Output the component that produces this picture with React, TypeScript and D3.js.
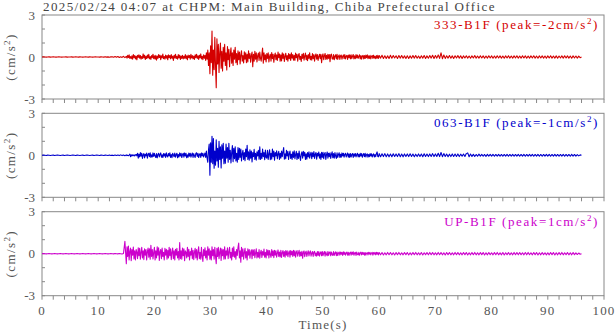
import React from 'react'
import * as d3 from 'd3'

// acceleration records (cm/s^2). Each channel is kept in three pieces:
// quiet part 0-14.75 s (every 0.25 s), strong part 15-59.875 s (every 0.125 s),
// coda 60-96 s (every 0.25 s)
const quietStep = 0.25
const strongStart = 15
const strongStep = 0.125
const codaStart = 60
const codaStep = 0.25

const quiet333 = [
  0, 0.01, 0, -0.01, 0, 0.01, -0.01, 0, 0.01, 0, -0.01, 0, 0.01, 0, -0.01, 0, 0, 0.01, -0.01, 0,
  0, 0.01, -0.01, 0, 0.01, 0, -0.01, 0.01, 0, -0.01, 0, 0.01, 0, -0.01, 0.01, 0, -0.01, 0, 0.01, 0,
  0, -0.01, 0.01, 0, -0.01, 0.02, -0.01, 0.01, -0.02, 0.01, 0.02, -0.02, 0.03, -0.02, 0.03, -0.03, 0.02, -0.03, 0.05, -0.04,
]
const strong333 = [
  0.05, -0.08, 0.12, -0.04, 0.15, -0.1, 0.03, -0.12, 0.08, -0.15, 0.18, -0.05, 0.1, -0.14, 0.06, -0.2, 0.12, -0.03, 0.16, -0.09,
  0.11, -0.16, 0.04, -0.1, 0.22, -0.07, 0.13, -0.18, 0.05, -0.11, 0.14, -0.06, 0.19, -0.13, 0.03, -0.17, 0.1, -0.05, 0.2, -0.12,
  0.08, -0.15, 0.12, -0.22, 0.06, -0.1, 0.17, -0.04, 0.13, -0.19, 0.09, -0.06, 0.21, -0.12, 0.04, -0.16, 0.14, -0.08, 0.1, -0.2,
  0.15, -0.05, 0.11, -0.13, 0.18, -0.09, 0.06, -0.24, 0.12, -0.07, 0.2, -0.11, 0.04, -0.15, 0.17, -0.06, 0.13, -0.18, 0.07, -0.1,
  0.12, -0.14, 0.05, -0.09, 0.18, -0.12, 0.08, -0.2, 0.14, -0.04, 0.11, -0.16, 0.19, -0.07, 0.1, -0.13, 0.06, -0.17, 0.15, -0.05,
  0.2, -0.1, 0.08, -0.18, 0.13, -0.06, 0.22, -0.14, 0.05, -0.19, 0.16, -0.09, 0.12, -0.25, 0.3, -0.15, 0.5, -0.6, 0.3, -1.2,
  0.8, -0.4, 1.86, -1.3, 0.5, -0.9, 1.4, -0.6, -2.19, 1.3, -0.5, 0.9, -1.1, 0.3, 1.0, -0.8, 0.4, -1.0, 0.7, -0.3,
  0.9, -0.6, 0.3, -0.93, 0.74, -0.2, 0.55, -0.69, 0.2, 0.65, -0.45, 0.3, -0.6, 0.5, -0.15, 0.7, -0.4, 0.25, -0.55, 0.45,
  -0.2, 0.35, -0.5, 0.15, 0.45, -0.3, 0.1, -0.42, 0.38, -0.15, 0.3, -0.4, 0.2, -0.35, 0.45, -0.1, 0.25, -0.38, 0.12, 0.35,
  -0.69, 0.2, -0.3, 0.4, -0.15, 0.3, -0.35, 0.1, 0.28, -0.25, 0.35, -0.1, -0.3, 0.2, 0.64, -0.45, 0.3, -0.2, 0.15, -0.35,
  0.25, -0.1, 0.3, -0.35, 0.05, 0.2, -0.3, 0.32, -0.12, 0.2, -0.38, 0.1, 0.28, -0.2, 0.15, -0.25, 0.35, -0.05, 0.22, -0.3,
  0.15, -0.28, 0.3, -0.1, 0.22, -0.32, 0.05, 0.27, -0.2, 0.1, -0.3, 0.24, -0.12, 0.2, -0.25, 0.3, -0.08, 0.18, -0.22, 0.12,
  -0.25, 0.28, -0.05, 0.2, -0.3, 0.12, 0.25, -0.18, 0.05, -0.32, 0.2, -0.1, 0.26, -0.22, 0.08, 0.28, -0.2, 0.12, -0.26, 0.18,
  -0.1, 0.3, -0.2, 0.05, -0.22, 0.25, -0.12, 0.18, -0.3, 0.1, 0.22, -0.15, 0.18, -0.25, 0.05, 0.2, -0.12, 0.2, -0.4, 0.1,
  0.22, -0.2, 0.08, 0.25, -0.18, 0.12, -0.15, 0.2, -0.1, 0.18, -0.33, 0.15, 0.2, -0.12, -0.15, 0.18, -0.2, 0.06, 0.16, -0.14,
  0.2, -0.17, 0.05, 0.15, -0.18, 0.1, 0.14, -0.16, 0.04, 0.15, -0.12, 0.18, -0.14, 0.06, 0.12, -0.17, 0.14, -0.05, 0.16, -0.13,
  0.15, -0.12, 0.05, 0.18, -0.14, 0.08, -0.12, 0.17, -0.06, 0.14, -0.1, 0.04, 0.16, -0.13, 0.1, -0.15, 0.06, 0.12, -0.14, 0.1,
  -0.11, 0.13, -0.05, 0.15, -0.12, 0.08, -0.1, 0.12, -0.13, 0.04, 0.11, -0.1, 0.13, -0.08, 0.05, -0.12, 0.1, -0.09, 0.12, -0.1,
]
const coda333 = [
  0.1, -0.08, 0.12, -0.1, 0.09, -0.11, 0.08, -0.1, 0.12, -0.09, 0.1, -0.07, 0.09, -0.11, 0.1, -0.08, 0.11, -0.09, 0.08, -0.1,
  0.09, -0.1, 0.08, -0.09, 0.11, -0.08, 0.1, -0.09, 0.07, -0.1, 0.09, -0.08, 0.1, -0.11, 0.08, -0.09, 0.1, -0.08, 0.12, -0.1,
  0.1, -0.08, 0.15, -0.1, 0.3, -0.12, 0.14, -0.1, 0.09, -0.08, 0.1, -0.09, 0.08, -0.1, 0.09, -0.07, 0.1, -0.08, 0.09, -0.1,
  0.08, -0.07, 0.09, -0.08, 0.07, -0.09, 0.08, -0.07, 0.1, -0.08, 0.07, -0.08, 0.09, -0.07, 0.08, -0.09, 0.07, -0.08, 0.09, -0.07,
  0.08, -0.09, 0.07, -0.08, 0.09, -0.07, 0.08, -0.08, 0.07, -0.09, 0.08, -0.07, 0.09, -0.08, 0.07, -0.08, 0.08, -0.07, 0.09, -0.08,
  0.07, -0.08, 0.09, -0.07, 0.08, -0.09, 0.07, -0.08, 0.08, -0.07, 0.09, -0.08, 0.07, -0.09, 0.08, -0.07, 0.08, -0.08, 0.07, -0.09,
  0.08, -0.07, 0.09, -0.08, 0.07, -0.08, 0.08, -0.09, 0.07, -0.07, 0.08, -0.08, 0.09, -0.07, 0.08, -0.08, 0.07, -0.09, 0.08, -0.07,
  0.07, -0.08, 0.06, -0.05, 0,
]

const quiet063 = [
  0, 0.01, 0, -0.01, 0.01, 0, -0.01, 0, 0.01, -0.01, 0, 0.01, 0, -0.01, 0, 0.01, -0.01, 0, 0.01, 0,
  -0.01, 0, 0.01, 0, -0.01, 0.01, 0, -0.01, 0, 0.01, -0.01, 0, 0.01, 0, -0.01, 0, 0.01, -0.01, 0, 0.01,
  0, -0.01, 0.01, 0, -0.01, 0.01, 0, -0.01, 0.02, -0.01, 0.01, -0.02, 0.02, -0.01, 0.02, -0.02, 0.03, -0.02, 0.02, -0.03,
]
const strong063 = [
  0.03, -0.02, 0.01, -0.03, 0.02, 0.08, -0.1, 0.04, -0.05, 0.03, -0.02, 0.04, -0.05, 0.02, 0.06, -0.04, 0.15, -0.2, 0.08, -0.12,
  0.2, -0.06, 0.15, -0.22, 0.04, 0.12, -0.18, 0.08, -0.04, 0.16, -0.2, 0.05, 0.14, -0.1, 0.18, -0.15, 0.03, -0.12, 0.17, -0.08,
  0.14, -0.05, -0.16, 0.12, -0.18, 0.04, 0.15, -0.11, 0.06, 0.17, -0.14, 0.03, -0.16, 0.13, -0.05, 0.11, -0.15, 0.18, -0.04, -0.12,
  0.13, -0.04, 0.18, -0.15, 0.05, -0.17, 0.14, 0.03, -0.1, 0.16, -0.13, 0.04, 0.15, -0.18, 0.06, -0.12, 0.17, -0.05, 0.14, -0.16,
  0.04, 0.15, -0.14, 0.17, -0.05, 0.14, -0.18, 0.03, -0.14, 0.16, -0.06, 0.15, -0.13, 0.04, 0.16, -0.15, 0.12, -0.04, -0.15, 0.14,
  0.18, -0.08, 0.14, -0.16, 0.05, 0.12, -0.15, 0.17, -0.04, 0.15, -0.12, 0.03, 0.16, -0.15, 0.3, -0.2, -0.5, 0.4, 0.8, -1.43,
  0.9, -0.5, 1.36, -0.6, 1.2, -0.93, 0.3, -0.7, 1.1, -0.4, 0.5, -0.85, 1.0, -0.3, 0.6, -0.9, 0.75, -0.2, 0.86, -0.6,
  0.3, -0.57, 0.8, -0.2, 0.55, -0.5, 0.86, -0.3, 0.35, -0.55, 0.2, 0.7, -0.45, 0.5, -0.25, 0.6, -0.4, 0.15, -0.5, 0.55,
  -0.3, 0.5, -0.15, 0.45, -0.4, 0.1, 0.35, -0.3, 0.2, -0.38, 0.45, -0.1, 0.71, -0.3, 0.25, -0.35, 0.4, -0.2, 0.3, -0.48,
  0.2, -0.1, 0.42, -0.3, 0.15, -0.35, 0.25, -0.05, 0.35, -0.28, 0.6, -0.3, 0.15, -0.25, 0.45, -0.1, 0.2, -0.32, 0.38, -0.15,
  -0.2, 0.35, -0.3, 0.1, 0.4, -0.32, 0.15, -0.28, 0.45, -0.1, 0.3, -0.35, 0.2, -0.05, 0.32, -0.25, 0.1, 0.28, -0.3, 0.15,
  -0.2, 0.3, -0.1, 0.25, 0.55, -0.28, 0.1, -0.25, 0.35, -0.05, 0.28, -0.3, 0.12, 0.3, -0.22, 0.08, -0.3, 0.25, -0.15, 0.32,
  -0.25, 0.05, 0.28, -0.3, 0.15, -0.22, 0.3, -0.1, -0.36, 0.1, 0.24, -0.2, 0.28, -0.05, 0.22, -0.3, 0.1, -0.28, 0.2, -0.12,
  0.25, -0.2, 0.05, 0.22, -0.25, 0.18, -0.1, 0.26, -0.22, 0.08, 0.2, -0.28, 0.15, -0.05, 0.24, -0.2, 0.1, -0.3, 0.22, -0.15,
  0.22, -0.25, 0.1, 0.2, -0.3, 0.05, 0.24, -0.2, 0.15, -0.1, 0.18, -0.22, 0.06, 0.25, -0.18, 0.12, -0.2, 0.2, -0.05, -0.22,
  0.17, -0.15, 0.05, 0.18, -0.16, 0.08, -0.14, 0.17, -0.05, 0.15, -0.13, 0.06, 0.14, -0.12, 0.04, 0.16, -0.13, 0.1, -0.15, 0.13,
  -0.12, 0.05, 0.13, -0.15, 0.1, -0.06, 0.13, -0.11, 0.04, 0.15, -0.12, 0.07, -0.11, 0.14, -0.05, 0.12, -0.14, 0.03, 0.12, -0.1,
  0.14, -0.12, 0.05, 0.1, -0.13, 0.06, -0.1, 0.12, -0.05, 0.11, -0.12, 0.04, 0.1, -0.12, 0.05, -0.1, 0.12, 0.24, -0.08, -0.11,
]
const coda063 = [
  0.12, -0.1, 0.11, -0.09, 0.12, -0.1, 0.1, -0.11, 0.09, -0.1, 0.11, -0.08, 0.1, -0.09, 0.12, -0.1, 0.09, -0.11, 0.1, -0.08,
  0.1, -0.09, 0.11, -0.08, 0.09, -0.1, 0.08, -0.09, 0.1, -0.08, 0.09, -0.1, 0.11, -0.08, 0.09, -0.09, 0.1, -0.08, 0.12, -0.09,
  0.1, -0.08, 0.14, -0.09, 0.2, -0.1, 0.12, -0.08, 0.09, -0.1, 0.08, -0.09, 0.1, -0.08, 0.09, -0.08, 0.1, -0.09, 0.08, -0.07,
  0.09, -0.08, 0.12, 0.17, -0.1, 0.09, -0.08, 0.07, -0.08, 0.06, -0.07, 0.08, -0.06, 0.07, -0.07, 0.06, -0.08, 0.07, -0.06, 0.07,
  -0.06, 0.07, -0.07, 0.06, -0.06, 0.07, -0.07, 0.06, -0.07, 0.06, -0.06, 0.07, -0.07, 0.06, -0.06, 0.07, -0.07, 0.06, -0.06, 0.07,
  -0.07, 0.06, -0.06, 0.07, -0.07, 0.06, -0.06, 0.07, -0.06, 0.07, -0.07, 0.06, -0.06, 0.07, -0.07, 0.06, -0.07, 0.06, -0.06, 0.07,
  -0.06, 0.07, -0.07, 0.06, -0.06, 0.07, -0.06, 0.06, -0.07, 0.06, -0.06, 0.07, -0.07, 0.06, -0.06, 0.06, -0.07, 0.07, -0.06, 0.06,
  -0.06, 0.05, -0.04, 0.03, 0,
]

const quietUP = [
  0, 0.01, 0, -0.01, 0, 0.01, 0, -0.01, 0, 0.01, 0, -0.01, 0, 0.01, 0, -0.01, 0, 0.01, 0, -0.01,
  0, 0.01, 0, -0.01, 0, 0.01, 0, -0.01, 0, 0.01, 0, -0.01, 0, 0.01, 0, -0.01, 0, 0.01, 0, -0.01,
  0, 0.01, 0, -0.01, 0, 0.01, 0, -0.01, 0, 0.01, 0, -0.01, 0.01, 0, -0.01, 0.01, 0, -0.02, 0.02, 0.88,
]
const strongUP = [
  -0.71, 0.5, -0.2, 0.55, -0.45, 0.15, 0.4, -0.5, 0.3, -0.1, 0.48, -0.38, 0.2, -0.45, 0.3, 0.1, -0.35, 0.42, -0.15, 0.38,
  -0.4, 0.1, 0.45, -0.3, 0.2, -0.42, 0.35, -0.1, 0.3, -0.45, 0.15, 0.4, -0.25, 0.35, -0.4, 0.6, -0.2, 0.3, -0.38, 0.1,
  0.45, -0.45, 0.2, -0.3, 0.5, -0.1, 0.42, -0.48, 0.15, 0.3, -0.35, 0.4, -0.2, 0.1, -0.45, 0.38, -0.1, 0.32, -0.4, 0.25,
  -0.3, 0.45, -0.15, 0.35, -0.42, 0.1, 0.4, -0.35, 0.2, -0.45, 0.32, -0.1, 0.38, -0.3, 0.15, -0.45, 0.79, -0.35, 0.2, -0.4,
  0.4, -0.15, 0.35, -0.5, 0.2, 0.1, -0.3, 0.45, -0.2, 0.32, -0.45, 0.15, -0.1, 0.4, -0.35, 0.25, -0.42, 0.1, 0.38, -0.3,
  0.3, -0.45, 0.15, 0.5, -0.36, 0.1, -0.4, 0.45, -0.2, -0.55, 0.3, -0.15, 0.42, -0.3, 0.2, -0.45, 0.5, -0.1, 0.35, -0.4,
  0.2, -0.45, 0.5, -0.15, 0.3, -0.4, 0.45, -0.2, -0.71, 0.38, -0.2, 0.45, -0.35, 0.1, 0.4, -0.48, 0.35, -0.15, 0.3, -0.4,
  0.5, -0.38, 0.2, -0.1, 0.42, -0.36, 0.15, 0.45, -0.3, 0.1, -0.45, 0.4, -0.2, 0.5, -0.25, 0.15, -0.4, 0.3, -0.12, 0.45,
  0.76, -0.3, 0.2, -0.6, 0.45, -0.2, 0.35, -0.4, 0.1, 0.38, -0.3, 0.15, -0.45, 0.35, -0.1, 0.3, -0.32, 0.1, 0.28, -0.35,
  0.28, -0.12, 0.3, -0.28, 0.05, 0.35, -0.3, 0.1, -0.25, 0.3, -0.32, 0.08, 0.25, -0.27, 0.15, -0.1, 0.34, -0.25, 0.1, -0.3,
  0.3, -0.1, 0.25, -0.3, 0.22, -0.05, -0.26, 0.3, -0.15, 0.2, -0.28, 0.25, -0.1, 0.2, -0.25, 0.05, 0.27, -0.2, 0.12, -0.24,
  0.24, -0.26, 0.08, 0.22, -0.2, 0.15, -0.25, 0.22, -0.1, 0.2, -0.22, 0.05, 0.2, -0.25, 0.22, -0.08, 0.18, -0.2, 0.24, -0.15,
  0.2, -0.25, 0.1, 0.22, -0.18, 0.05, 0.24, -0.2, 0.12, -0.15, 0.18, -0.33, 0.1, 0.2, -0.22, 0.08, 0.18, -0.2, 0.05, 0.21,
  -0.16, 0.1, 0.2, -0.18, 0.05, 0.15, -0.2, 0.12, 0.17, -0.15, 0.05, -0.18, 0.16, -0.12, 0.15, -0.17, 0.04, 0.13, -0.15, 0.16,
  -0.14, 0.05, 0.15, -0.17, 0.13, -0.05, -0.15, 0.16, -0.12, 0.08, 0.14, -0.15, 0.12, -0.05, -0.13, 0.15, -0.12, 0.04, 0.13, -0.14,
  0.11, -0.13, 0.05, 0.12, -0.11, 0.12, -0.04, 0.1, -0.12, 0.13, -0.05, 0.11, -0.1, 0.04, 0.12, -0.11, 0.1, -0.12, 0.05, 0.11,
  -0.1, 0.12, -0.04, 0.13, -0.11, 0.05, 0.1, -0.12, 0.11, -0.04, -0.09, 0.1, -0.11, 0.04, 0.11, -0.09, 0.1, -0.05, 0.08, -0.1,
  0.09, -0.1, 0.04, 0.08, -0.09, 0.1, -0.03, 0.09, -0.08, 0.04, 0.09, -0.1, 0.08, -0.03, 0.09, -0.08, 0.1, -0.04, 0.08, -0.09,
]
const codaUP = [
  0.09, -0.08, 0.08, -0.09, 0.07, -0.08, 0.09, -0.07, 0.08, -0.08, 0.07, -0.09, 0.08, -0.07, 0.09, -0.08, 0.07, -0.08, 0.08, -0.07,
  0.08, -0.09, 0.07, -0.08, 0.08, -0.07, 0.09, -0.08, 0.07, -0.08, 0.08, -0.09, 0.07, -0.07, 0.08, -0.08, 0.09, -0.07, 0.08, -0.08,
  0.07, -0.08, 0.09, -0.07, 0.08, -0.08, 0.07, -0.09, 0.08, -0.07, 0.08, -0.08, 0.07, -0.08, 0.09, -0.07, 0.08, -0.08, 0.07, -0.08,
  0.08, -0.07, 0.08, -0.09, 0.07, -0.08, 0.08, -0.07, 0.09, -0.08, 0.07, -0.08, 0.08, -0.07, 0.08, -0.09, 0.07, -0.08, 0.08, -0.07,
  0.07, -0.08, 0.08, -0.07, 0.09, -0.08, 0.07, -0.08, 0.08, -0.09, 0.07, -0.07, 0.08, -0.08, 0.07, -0.08, 0.09, -0.07, 0.08, -0.08,
  0.08, -0.07, 0.07, -0.08, 0.08, -0.08, 0.09, -0.07, 0.07, -0.08, 0.08, -0.07, 0.08, -0.09, 0.07, -0.08, 0.08, -0.07, 0.07, -0.08,
  0.07, -0.08, 0.08, -0.07, 0.08, -0.09, 0.07, -0.08, 0.08, -0.07, 0.09, -0.08, 0.07, -0.07, 0.08, -0.08, 0.07, -0.08, 0.08, -0.07,
  0.06, -0.06, 0.05, -0.04, 0,
]

const records = [
  [quiet333, strong333, coda333],
  [quiet063, strong063, coda063],
  [quietUP, strongUP, codaUP],
]
const channelNames = ['333-B1F', '063-B1F', 'UP-B1F']
const peakValues = ['-2', '-1', '1']
const title = '2025/02/24 04:07 at CHPM: Main Building, Chiba Prefectural Office'
const xTickValues = [0, 10, 20, 30, 40, 50, 60, 70, 80, 90, 100]
const yTickValues = [3, 0, -3]

const colors = ['#d40000', '#0000cc', '#cc00cc']
const font = '"Liberation Serif", "Times New Roman", serif'
const axisColor = '#888'
const textColor = '#555'

// [time, value] pairs from the three pieces
function toSamples([quiet, strong, coda]: number[][]): [number, number][] {
  return [
    ...quiet.map((v, i): [number, number] => [i * quietStep, v]),
    ...strong.map((v, i): [number, number] => [strongStart + i * strongStep, v]),
    ...coda.map((v, i): [number, number] => [codaStart + i * codaStep, v]),
  ]
}

export default function App() {
  const width = 616
  const height = 334
  const left = 42
  const right = 604
  const panelHeight = 84
  const panelTops = [15, 113.3, 211.7]

  const x = d3.scaleLinear().domain([0, 100]).range([left, right])
  const minorTicks = d3.range(0, 101, 2)

  return (
    <svg
      width={width}
      height={height}
      style={{ position: 'absolute', left: 0, top: 0, background: '#fff' }}
      fontFamily={font}
    >
      <text x={left + 1} y={11} fontSize={13} letterSpacing={1.4} fill="#444">
        {title}
      </text>

      {records.map((rec, i) => {
        const top = panelTops[i]
        const y = d3.scaleLinear().domain([-3, 3]).range([top + panelHeight, top])
        const line = d3
          .line<[number, number]>()
          .x((d) => x(d[0]))
          .y((d) => y(d[1]))
        return (
          <g key={i}>
            <rect
              x={left}
              y={top}
              width={right - left}
              height={panelHeight}
              fill="none"
              stroke={axisColor}
              strokeWidth={1}
            />
            {minorTicks.map((t) => (
              <line
                key={t}
                x1={x(t)}
                x2={x(t)}
                y1={top + panelHeight}
                y2={top + panelHeight + 4}
                stroke={axisColor}
              />
            ))}
            {d3.range(-3, 4).map((v) => (
              <line key={v} x1={left} x2={left + 3} y1={y(v)} y2={y(v)} stroke={axisColor} />
            ))}
            {yTickValues.map((v) => (
              <text
                key={v}
                x={left - 7}
                y={y(v) + 4.5}
                textAnchor="end"
                fontSize={13}
                fill={textColor}
              >
                {v}
              </text>
            ))}
            <text
              transform={`translate(15,${top + panelHeight / 2}) rotate(-90)`}
              textAnchor="middle"
              fontSize={13}
              letterSpacing={1.4}
              fill={textColor}
            >
              (cm/s<tspan dy={-5} fontSize={9}>2</tspan>
              <tspan dy={5}>)</tspan>
            </text>
            <path
              d={line(toSamples(rec)) || ''}
              fill="none"
              stroke={colors[i]}
              strokeWidth={1.1}
              strokeLinejoin="round"
            />
            <text
              x={599}
              y={top + 14}
              textAnchor="end"
              fontSize={13}
              letterSpacing={1.6}
              fill={colors[i]}
            >
              {channelNames[i]} (peak={peakValues[i]}cm/s
              <tspan dy={-5} fontSize={9}>2</tspan>
              <tspan dy={5}>)</tspan>
            </text>
          </g>
        )
      })}

      {xTickValues.map((t) => (
        <text
          key={t}
          x={x(t)}
          y={315}
          textAnchor="middle"
          fontSize={13}
          letterSpacing={1.2}
          fill={textColor}
        >
          {t}
        </text>
      ))}
      <text
        x={(left + right) / 2}
        y={328.5}
        textAnchor="middle"
        fontSize={13}
        letterSpacing={1.2}
        fill={textColor}
      >
        Time(s)
      </text>
    </svg>
  )
}
